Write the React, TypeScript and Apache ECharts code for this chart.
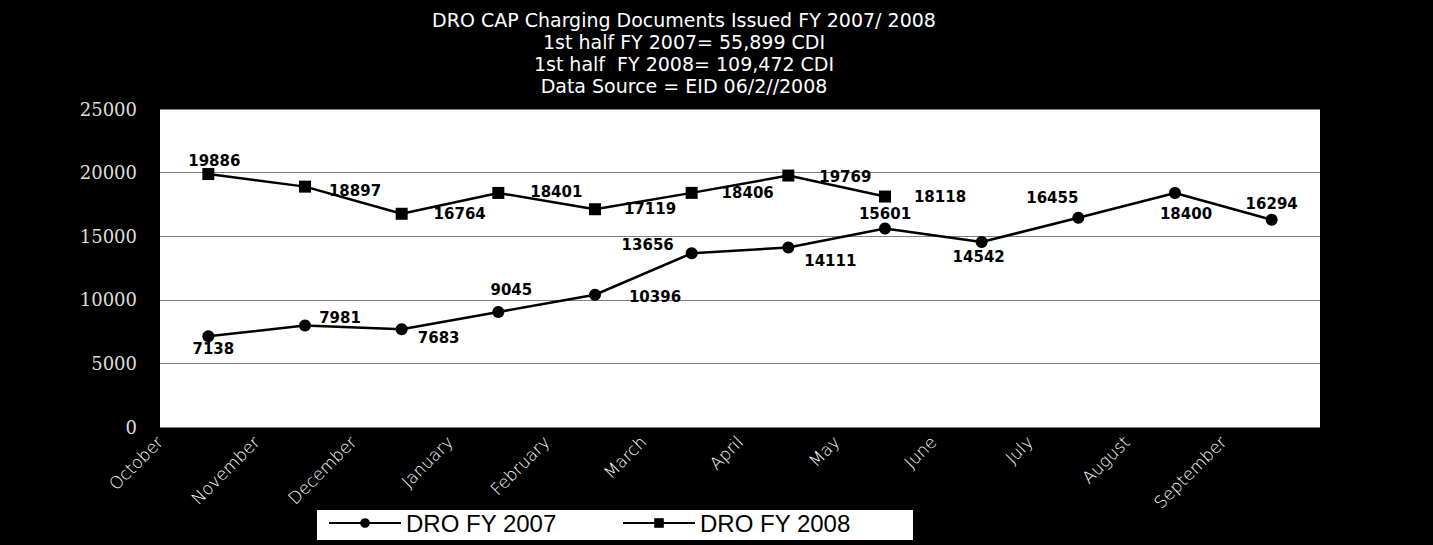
import React, { useEffect, useRef } from "react";
import * as echarts from "echarts";

const TITLE_LINES = [
  "DRO CAP Charging Documents Issued FY 2007/ 2008",
  "1st half FY 2007= 55,899 CDI",
  "1st half  FY 2008= 109,472 CDI",
  "Data Source = EID 06/2//2008",
];

const MONTHS = [
  "October", "November", "December", "January", "February", "March",
  "April", "May", "June", "July", "August", "September",
];

const FY2007 = [7138, 7981, 7683, 9045, 10396, 13656, 14111, 15601, 14542, 16455, 18400, 16294];
const FY2008 = [19886, 18897, 16764, 18401, 17119, 18406, 19769, 18118];

const Y_TICKS = [0, 5000, 10000, 15000, 20000, 25000];

// label centre offsets from each point (layout only)
const OFF_2007: [number, number][] = [
  [5, 13], [35, -7], [37, 9], [13, -22], [60, 2], [-44, -8],
  [42, 13], [0, -15], [-3, 15], [-26, -20], [11, 21], [0, -16],
];
const OFF_2008: [number, number][] = [
  [6, -13], [50, 4], [58, 0], [58, -1], [55, 0], [56, 0], [57, 1], [55, 0],
];

export default function App() {
  const ref = useRef<HTMLDivElement>(null);
  useEffect(() => {
    if (!ref.current) return;
    const chart = echarts.init(ref.current, null, { renderer: "svg" });
    const labelStyle = {
      show: true,
      position: "inside",
      color: "#000",
      fontFamily: "DejaVu Sans",
      fontWeight: "bold",
      fontSize: 15,
    };
    const mk = (vals: number[], offs: [number, number][]) =>
      vals.map((v, i) => ({ value: v, label: { ...labelStyle, offset: offs[i] } }));
    chart.setOption({
      animation: false,
      backgroundColor: "#000",
      title: {
        text: TITLE_LINES.join("\n"),
        left: 679,
        top: 4,
        textAlign: "center",
        textStyle: {
          color: "#fff",
          fontFamily: "DejaVu Sans",
          fontWeight: "normal",
          fontSize: 19,
          lineHeight: 22,
        },
      },
      grid: {
        left: 160,
        right: 113,
        top: 109,
        bottom: 118,
        show: true,
        backgroundColor: "#fff",
        borderWidth: 0,
      },
      xAxis: [
        {
          type: "category",
          data: MONTHS,
          boundaryGap: true,
          axisLine: { show: false },
          axisTick: { show: false },
          axisLabel: { show: false },
          splitLine: { show: false },
        },
        {
          type: "value",
          min: 0,
          max: 12,
          interval: 1,
          position: "bottom",
          axisLine: { show: false },
          axisTick: { show: false },
          splitLine: { show: false },
          axisLabel: {
            rotate: 45,
            margin: 12,
            color: "#fff",
            fontFamily: "DejaVu Sans",
            fontWeight: "lighter",
            fontSize: 17,
            formatter: (v: number) => MONTHS[v] ?? "",
            showMaxLabel: true,
            showMinLabel: true,
          },
        },
      ],
      yAxis: {
        type: "value",
        min: 0,
        max: 25000,
        interval: 5000,
        axisLine: { show: false },
        axisTick: { show: false },
        axisLabel: {
          margin: 23,
          color: "#ddd",
          fontFamily: "DejaVu Serif",
          fontSize: 18,
          formatter: (v: number) => (Y_TICKS.includes(v) ? String(v) : ""),
        },
        splitLine: { show: true, lineStyle: { color: "#808080", width: 1 } },
      },
      legend: [
        {
          data: ["DRO FY 2007"],
          left: 328,
          top: 511,
          padding: 0,
          itemWidth: 72,
          itemHeight: 12,
          textStyle: { color: "#000", fontSize: 24, fontFamily: "Liberation Sans, Arial" },
        },
        {
          data: ["DRO FY 2008"],
          left: 622,
          top: 511,
          padding: 0,
          itemWidth: 72,
          itemHeight: 12,
          textStyle: { color: "#000", fontSize: 24, fontFamily: "Liberation Sans, Arial" },
        },
      ],
      graphic: [
        {
          type: "rect",
          shape: { x: 317, y: 510, width: 596, height: 30 },
          style: { fill: "#fff" },
          z: 0,
        },
      ],
      series: [
        {
          name: "DRO FY 2007",
          type: "line",
          xAxisIndex: 0,
          data: mk(FY2007, OFF_2007),
          symbol: "circle",
          symbolSize: 12,
          itemStyle: { color: "#000" },
          lineStyle: { color: "#000", width: 2.5 },
        },
        {
          name: "DRO FY 2008",
          type: "line",
          xAxisIndex: 0,
          data: mk(FY2008, OFF_2008),
          symbol: "rect",
          symbolSize: 12,
          itemStyle: { color: "#000" },
          lineStyle: { color: "#000", width: 2.5 },
        },
      ],
    });
    return () => chart.dispose();
  }, []);
  return (
    <div
      ref={ref}
      style={{ position: "absolute", left: 0, top: 0, width: 1433, height: 545 }}
    />
  );
}
